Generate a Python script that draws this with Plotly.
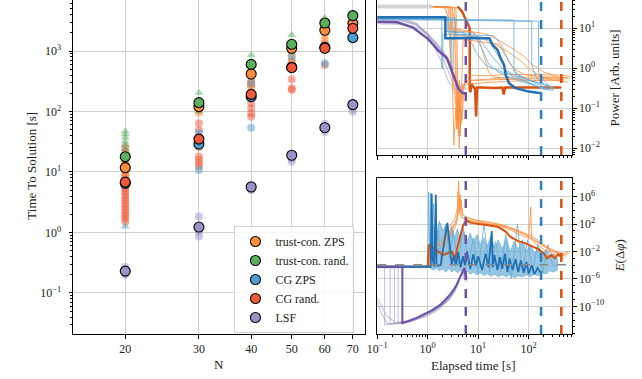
import math
import plotly.graph_objects as go

# ---------------- DATA: left panel (time to solution vs N) ----------------
N = [20, 30, 40, 50, 60, 70]
tc_zps = [11.8, 120, 417, 1110, 2200, 2870]
tc_rand = [17.9, 140, 600, 1290, 2900, 3840]
cg_zps = [6.5, 29, 176, 540, 1150, 1660]
cg_rand = [6.8, 35, 192, 530, 1110, 2370]
lsf = [0.23, 1.23, 5.65, 18.9, 54, 130]

tc_zps_f_N = [20, 20, 20, 20, 30, 30, 40, 40, 40, 50, 50, 50, 60, 60, 70]
tc_zps_f = [9, 10, 13, 15, 95, 105, 310, 280, 250, 975, 860, 700, 1520, 1800, 2600]
tc_rand_f_N = [20, 20, 20, 20, 20, 20, 20, 30, 30, 40, 50, 60, 70]
tc_rand_f = [20, 24, 28, 32, 37, 42, 47, 205, 100, 860, 1840, 3500, 4200]
cg_zps_f_N = [30, 30, 40, 40, 50, 60]
cg_zps_f = [10.8, 44, 54, 296, 800, 625]
cg_zps_tri_N = [20]
cg_zps_tri = [1.25]
cg_rand_f_N = [20] * 23 + [30] * 7 + [40] * 6 + [50] * 4 + [60] * 2
cg_rand_f = [1.5, 1.7, 1.9, 2.1, 2.4, 2.7, 3.0, 3.4, 3.8, 4.3, 4.8, 5.4, 6.1, 7, 8, 9, 10.5, 12, 14, 16, 19, 22, 26,
             64, 49, 26, 18, 16, 14, 12.5,
             311, 275, 137, 113, 93, 82,
             667, 340, 242, 227,
             1340, 587]
lsf_f_N = [20, 20, 20, 30, 30, 30, 40, 40, 50, 50, 60, 60, 70, 70]
lsf_f = [0.2, 0.21, 0.27, 1.83, 0.86, 1.03, 5.0, 6.2, 14.8, 16.5, 63, 46, 99, 110]

left_y_exps = [-1, 0, 1, 2, 3]

# ---------------- DATA: right top (power vs elapsed time) ----------------
gray_t = [0.1, 1.2]
gray_p = [35, 35]

lsf_med_t = [0.1, 0.25, 0.5, 0.8, 1.0, 1.3, 1.6, 2.0, 2.4, 2.8, 3.2, 3.6, 4.0, 4.5, 5.0, 5.7]
lsf_med_p = [14.6, 14, 10.5, 7, 5.5, 3.8, 2.8, 2.2, 1.8, 1.1, 0.7, 0.45, 0.32, 0.26, 0.24, 0.23]

lsf_runs_t = [
    [0.1, 0.3, 0.6, 1.0, 1.5, 2.0, 2.5, 3.0, 3.5, 4.0, 5.0],
    [0.1, 0.3, 0.6, 1.0, 1.5, 2.0, 2.5, 3.0, 3.5, 4.5, 5.5],
    [0.1, 0.3, 0.6, 1.0, 1.4, 1.8, 2.2, 2.6, 3.0, 3.5, 4.2],
    [0.1, 0.3, 0.6, 1.0, 1.6, 2.2, 2.8, 3.3, 3.8, 4.5, 6.0],
    [0.1, 0.3, 0.6, 1.0, 1.5, 2.0, 2.6, 3.2, 3.8, 4.6, 5.2],
]
lsf_runs_p = [
    [20, 18, 13, 7, 3.5, 1.8, 0.9, 0.5, 0.35, 0.3, 0.28],
    [16, 15, 12, 7.5, 4.2, 2.5, 1.4, 0.7, 0.45, 0.35, 0.33],
    [18, 17, 13, 6.5, 3.2, 1.6, 0.8, 0.45, 0.35, 0.3, 0.3],
    [13, 12.5, 10.5, 6.8, 3.8, 2.3, 1.2, 0.6, 0.4, 0.33, 0.3],
    [17, 16, 12, 7, 3.8, 2.3, 1.3, 0.65, 0.4, 0.3, 0.28],
]

tc_runs_t = [
    [1.2, 3.0, 3.3, 3.5, 3.7, 3.9, 4.1, 4.3, 4.6, 5.0, 5.5, 6.5, 10, 30, 100, 300, 600],
    [1.2, 2.6, 2.9, 3.1, 3.3, 3.6, 3.8, 4.0, 4.4, 4.8, 5.2, 6, 9, 20, 60, 200, 500],
    [1.3, 3.4, 3.6, 3.8, 4.0, 4.2, 4.5, 4.8, 5.2, 5.8, 7, 15, 40, 120, 400, 700],
    [1.2, 2.2, 2.5, 2.8, 3.1, 3.5, 4.0, 4.6, 5.5, 8, 20, 50, 150, 350],
    [1.2, 2.5, 2.7, 5, 8, 12, 15, 20, 30, 50, 80, 120, 200, 400, 650],
    [1.2, 3.0, 3.2, 6, 10, 14, 18, 25, 40, 70, 110, 180, 300, 600],
    [1.3, 2.8, 3.0, 5, 8, 10, 12, 14, 16, 20, 40, 100, 250, 500],
    [1.3, 3.6, 3.8, 4.0, 4.2, 4.4, 5, 7, 12, 25, 35, 50, 80, 200, 500],
]
tc_runs_p = [
    [35, 34, 20, 2, 0.05, 0.3, 0.02, 0.2, 0.04, 0.3, 0.45, 0.5, 0.5, 0.52, 0.55, 0.55, 0.58],
    [35, 33, 15, 0.5, 0.012, 0.1, 0.03, 0.25, 0.08, 0.4, 0.35, 0.4, 0.42, 0.45, 0.48, 0.5, 0.52],
    [34, 32, 8, 0.03, 0.15, 0.01, 0.1, 0.05, 0.3, 0.6, 0.65, 0.65, 0.7, 0.7, 0.68, 0.62],
    [34, 32, 20, 3, 0.6, 0.2, 0.05, 0.3, 0.45, 0.5, 0.55, 0.6, 0.6, 0.6],
    [35, 34, 9, 8.5, 8, 7.5, 7, 6, 4.5, 3, 2, 1.2, 0.8, 0.6, 0.55],
    [35, 33, 7, 6.5, 6, 5.5, 4.5, 3.5, 2.5, 1.5, 0.9, 0.6, 0.5, 0.45],
    [34, 33, 10, 9, 8, 6, 3, 1.5, 0.8, 0.6, 0.55, 0.5, 0.5, 0.5],
    [35, 33, 10, 0.05, 0.5, 0.02, 5, 5, 4.5, 4, 2, 1, 0.7, 0.6, 0.55],
]

cg_runs_t = [
    [0.1, 1.9, 1.9, 2.0, 2.0, 6, 9, 12, 16, 25, 60, 150, 260],
    [0.1, 2.5, 2.5, 8, 11, 15, 20, 30, 50, 90, 200, 300],
    [0.1, 51, 51, 60, 100, 200, 280],
    [0.1, 115, 115, 140, 200, 300],
    [0.1, 157, 157, 200, 260, 320],
    [0.1, 2.8, 2.8, 3.2, 3.2, 12, 18, 25, 35, 80, 200],
    [0.1, 3.5, 3.5, 20, 28, 40, 60, 120, 250],
    [0.1, 2.2, 2.2, 5, 7, 9, 14, 30, 70, 180, 320],
]
cg_runs_p = [
    [18, 18, 1.0, 1.0, 7, 7, 6, 3, 1.3, 0.8, 0.5, 0.35, 0.3],
    [18.5, 18.5, 8, 7.5, 5, 3, 1.8, 1.0, 0.6, 0.45, 0.3, 0.28],
    [17, 16, 0.8, 0.7, 0.5, 0.4, 0.35],
    [17.5, 15, 1.2, 0.6, 0.4, 0.3],
    [16.5, 15, 0.8, 0.5, 0.35, 0.28],
    [18, 18, 0.9, 0.9, 6.5, 6, 4, 2, 0.9, 0.5, 0.3],
    [18, 18, 7, 6.5, 4, 1.5, 0.7, 0.45, 0.3],
    [18, 18, 8.5, 8, 5, 2.5, 1.2, 0.8, 0.6, 0.4, 0.32],
]

cg_med_t = [0.1, 2.24, 2.24, 16.7, 19.3, 24, 28, 32.6, 35, 40.8, 55, 100, 176]
cg_med_p = [18.8, 18.8, 5.6, 5.6, 3.8, 2.9, 1.78, 1.2, 0.68, 0.42, 0.32, 0.26, 0.237]

tc_med_t = [3.8, 4.2, 4.8, 5.5, 6.2, 6.8, 6.8, 7.0, 7.3, 8.0, 8.7, 9.1, 9.5, 12, 20, 30, 32, 34, 60, 100, 200, 300, 443]
tc_med_p = [34, 32, 26, 18, 12, 10, 0.3, 0.25, 0.4, 0.33, 0.3, 0.062, 0.33, 0.33, 0.32, 0.33, 0.22, 0.33, 0.33, 0.32, 0.32, 0.32, 0.33]

power_exps = [-2, -1, 0, 1]
time_exps = [-1, 0, 1, 2]

# ---------------- DATA: right bottom (error vs elapsed time) ----------------
err_threshold = 1.15e-4
finish_times = [5.68, 176, 443]   # LSF, CG ZPS, trust-con. ZPS
err_exps = [-10, -6, -2, 2, 6]

lsf_med_et = [0.1, 0.315, 0.315, 0.4, 0.6, 0.84, 1.2, 1.77, 2.3, 2.77, 3.3, 3.73, 4.2, 4.66, 5.0, 5.4, 5.68]
lsf_med_e = [6e-5, 6e-5, 3.5e-13, 6e-13, 2e-12, 6e-12, 2.5e-11, 1.6e-10, 1.2e-9, 5e-9, 3e-8, 1.3e-7, 1e-6, 4e-6, 1e-5, 4e-5, 2e-6]

lsf_runs_et = [
    [0.1, 0.14, 0.14, 0.2, 0.4, 0.8, 1.5, 2.5, 3.5, 4.2, 4.8, 5.3],
    [0.1, 0.18, 0.18, 0.25, 0.5, 1.0, 1.8, 2.8, 3.6, 4.4, 5.0, 5.5],
    [0.1, 0.22, 0.22, 0.3, 0.6, 1.2, 2.0, 3.0, 3.8, 4.5, 5.2, 6.0],
    [0.1, 0.26, 0.26, 0.35, 0.7, 1.3, 2.2, 3.2, 4.0, 4.6, 5.4, 6.2],
    [0.1, 0.12, 0.16, 0.2, 0.4, 0.9, 1.6, 2.6, 3.4, 4.3, 5.0],
    [0.1, 0.15, 0.25, 0.5, 1.0, 2.0, 3.0, 4.0, 4.8],
]
lsf_runs_e = [
    [6e-5, 6e-5, 2e-13, 3e-13, 8e-13, 4e-12, 4e-11, 6e-10, 2e-8, 4e-7, 8e-6, 1e-6],
    [6e-5, 6e-5, 2.5e-13, 3.5e-13, 1e-12, 8e-12, 1e-10, 3e-9, 5e-8, 2e-6, 3e-5, 5e-7],
    [6e-5, 6e-5, 3e-13, 4e-13, 1.5e-12, 1.5e-11, 2e-10, 5e-9, 1e-7, 3e-6, 2e-5, 3e-7],
    [6e-5, 6e-5, 3e-13, 4e-13, 2e-12, 2e-11, 3e-10, 8e-9, 3e-7, 6e-6, 5e-5, 1e-6],
    [5e-10, 1e-11, 3e-13, 2.5e-13, 5e-13, 3e-12, 3e-11, 8e-10, 1.5e-8, 1e-6, 3e-5],
    [2e-9, 5e-12, 3e-13, 7e-13, 6e-12, 2e-10, 4e-9, 3e-7, 1e-5],
]

cg_flat_et = [0.1, 1.0]
cg_flat_e = [6e-5, 6e-5]

cg_band_t = [1.0, 1.3, 1.5, 1.7, 2.0, 2.3, 2.6, 3.0, 3.4, 3.9, 4.5, 5.2, 6, 7, 8, 9.5, 11, 13, 15, 18,
             21, 25, 30, 36, 43, 52, 62, 75, 90, 108, 130, 155, 185, 220, 260, 310, 370]
cg_band_hi = [1e-3, 1e2, 5, 3e2, 10, 100, 3, 50, 1, 20, 0.5, 10, 0.3, 5, 0.2, 3, 0.1, 1, 0.05, 2,
              0.03, 0.5, 0.02, 1, 0.01, 0.3, 0.02, 0.5, 0.01, 0.1, 5e-3, 0.05, 3e-3, 0.02, 2e-3, 5e-3, 1e-3]
cg_band_lo = [6e-5, 2e-5, 4e-5, 1.5e-5, 3e-5, 1e-5, 3e-5, 1e-5, 2e-5, 8e-6, 2e-5, 6e-6, 1.5e-5, 5e-6, 1e-5, 4e-6, 8e-6, 3e-6, 6e-6, 2.5e-6,
              5e-6, 2e-6, 4e-6, 2e-6, 4e-6, 1.5e-6, 3e-6, 2e-6, 4e-6, 2e-6, 5e-6, 3e-6, 8e-6, 5e-6, 1.5e-5, 1e-5, 2e-5]

cg_spk_t = [1.0, 1.05, 1.1, 1.15, 1.2, 1.3, 1.4, 1.6, 1.9, 2.3, 2.7, 3.2, 4, 5, 6.5, 8, 10, 13, 17, 22,
            28, 35, 45, 60, 75, 95, 120, 150, 190, 240, 300, 370]
cg_spk_e = [6e-5, 5e6, 1e-3, 3e6, 1e-2, 1e5, 1e-3, 1e1, 1e-4, 1e2, 1e-3, 1e1, 1e-4, 5e1, 1e-4, 1, 1e-5, 1e2, 1e-5, 0.3,
            1e-5, 3, 1e-6, 1e2, 1e-5, 0.5, 1e-5, 0.1, 1e-5, 1e-1, 1e-4, 1e-4]

cg_med_et = [0.1, 1.15, 1.2, 1.25, 1.35, 1.45, 1.5, 1.6, 1.8, 2.45, 3.0, 3.3, 3.6, 4.0, 4.5, 5, 5.5, 6, 7, 8,
             9, 10, 12, 14, 16, 18.6, 19.5, 21, 24, 27, 30, 34, 38, 42, 48, 55, 62, 70, 80, 90,
             100, 115, 130, 150, 176]
cg_med_e = [6e-5, 6e-5, 3e6, 1e-3, 6e-5, 2e6, 1e-4, 8e-5, 1e-4, 1.5e2, 1e-4, 3e-3, 1e-4, 8e-3, 5e-5, 2e-3, 1e-4, 1e-2, 3e-5, 4e-3,
            8e-5, 2e-3, 2e-5, 5e-3, 5e-5, 1e1, 5e-5, 3e-3, 2e-5, 1.5e-3, 3e-5, 5e-3, 1e-5, 1e-3, 2e-5, 8e-4, 1e-5, 5e-4, 8e-6, 3e-4,
            6e-6, 1e-4, 5e-6, 4e-5, 7e-6]

tc_runs_et = [
    [1.05, 1.05, 1.5, 2.0, 2.5, 3.0, 3.5, 3.9, 4.1, 4.3, 4.6, 5, 6, 7, 9, 12, 16, 22, 30, 40,
     55, 70, 90, 120, 150, 180, 230, 300, 400, 520, 640],
    [1.1, 1.1, 1.6, 2.2, 2.8, 3.3, 3.8, 4.0, 4.2, 4.4, 4.8, 5.5, 6.5, 8, 10, 14, 20, 28, 38, 50,
     65, 85, 110, 140, 170, 210, 260, 330, 420, 550],
    [1.2, 1.2, 1.8, 2.4, 3.0, 3.6, 4.0, 4.3, 4.6, 5.0, 5.8, 7, 9, 12, 17, 25, 35, 50, 70, 100,
     130, 160, 200, 260, 350, 480, 620],
    [1.3, 1.3, 2.0, 2.6, 3.2, 3.7, 4.1, 4.4, 4.8, 5.3, 6, 8, 11, 15, 21, 30, 42, 60, 80, 100,
     110, 115, 130, 160, 200, 250, 320, 400, 500],
]
tc_runs_e = [
    [6e-5, 1e-2, 5e-2, 1, 20, 150, 800, 3e4, 2e8, 1e4, 3e5, 2e3, 900, 600, 400, 300, 200, 120, 60, 30,
     12, 5, 2, 0.5, 0.2, 0.08, 0.03, 0.01, 5e-3, 3e-3, 6e-3],
    [6e-5, 3e-3, 2e-2, 0.3, 5, 60, 400, 5e6, 1e4, 2e6, 3e3, 1200, 700, 500, 300, 200, 150, 90, 50, 25,
     10, 4, 1, 0.4, 0.15, 0.05, 0.02, 8e-3, 4e-3, 2e-3],
    [6e-5, 5e-2, 0.1, 2, 30, 300, 2e3, 5e5, 1e3, 800, 500, 300, 200, 150, 100, 70, 40, 15, 6, 3,
     1, 0.3, 0.1, 0.03, 0.01, 5e-3, 8e-3],
    [6e-5, 1e-3, 0.02, 0.5, 10, 100, 1e4, 3e3, 1e3, 600, 400, 250, 150, 100, 70, 40, 15, 5, 2, 0.8,
     3e4, 0.5, 0.2, 0.06, 0.02, 0.01, 3e-3, 2e-3, 1e-3],
]

tc_med_et = [0.1, 1.0, 1.05, 2.0, 3.0, 3.5, 4.0, 4.5, 5.0, 5.85, 6.5, 7.5, 8.4, 10, 13.5, 18, 24, 29, 35, 43,
             50, 63, 80, 100, 130, 160, 200, 230, 280, 330, 380, 443]
tc_med_e = [6e-5, 6e-5, 1e-1, 3e-3, 1e-2, 1e-3, 1e-1, 5, 60, 400, 200, 150, 120, 100, 80, 60, 40, 20, 8, 1.5,
            0.8, 0.3, 0.2, 0.1, 0.05, 0.02, 5e-3, 1e-3, 3e-3, 1e-3, 4e-3, 2e-3]

legend_names = ["trust-con. ZPS", "trust-con. rand.", "CG ZPS", "CG rand.", "LSF"]

# ---------------- STYLE ----------------
W, H = 642, 379
FONT = "Liberation Serif"
C_TCZ = "#fd8d3c"
C_TCR = "#5aae5c"
C_CGZ = "#4c9fd2"
C_CGR = "#f05a3c"
C_LSF = "#9a93c8"
D_PURPLE = "#6f52a6"
D_BLUE = "#2171b5"
D_ORANGE = "#d9500f"
L_PURPLE = "rgba(158,154,200,0.55)"
L_BLUE = "rgba(107,174,214,0.85)"
L_ORANGE = "rgba(253,141,60,0.8)"
GRID = "#cfcfcf"


def pow_text(e):
    s = str(e) if e >= 0 else "\u2212" + str(-e)
    return "10<sup>" + s + "</sup>"


fig = go.Figure()

# ---- left panel: faint points ----
def faint(xs, ys, color, symbol="circle"):
    fig.add_trace(go.Scatter(x=xs, y=ys, mode="markers", showlegend=False,
                             marker=dict(color=color, size=8, symbol=symbol, opacity=0.5, line=dict(width=0)),
                             xaxis="x", yaxis="y", hoverinfo="skip"))

faint(cg_rand_f_N, cg_rand_f, C_CGR)
faint(tc_zps_f_N, tc_zps_f, C_TCZ)
faint(tc_rand_f_N, tc_rand_f, C_TCR, "triangle-up")
faint(cg_zps_f_N, cg_zps_f, C_CGZ)
faint(cg_zps_tri_N, cg_zps_tri, C_CGZ, "triangle-up")
faint(lsf_f_N, lsf_f, C_LSF)

for name, vals, col in zip(legend_names, [tc_zps, tc_rand, cg_zps, cg_rand, lsf],
                           [C_TCZ, C_TCR, C_CGZ, C_CGR, C_LSF]):
    fig.add_trace(go.Scatter(x=N, y=vals, mode="markers", name=name,
                             marker=dict(color=col, size=10, line=dict(color="black", width=1.1)),
                             xaxis="x", yaxis="y"))

# ---- right panels ----
def line(xs, ys, color, width, ax, ay):
    fig.add_trace(go.Scatter(x=xs, y=ys, mode="lines", showlegend=False, hoverinfo="skip",
                             line=dict(color=color, width=width), xaxis=ax, yaxis=ay))

# top
line(gray_t, gray_p, "#d4d4d4", 4, "x2", "y2")
for t, p in zip(lsf_runs_t, lsf_runs_p):
    line(t, p, L_PURPLE, 1.2, "x2", "y2")
line(tc_med_t, tc_med_p, D_ORANGE, 2.5, "x2", "y2")
for t, p in zip(tc_runs_t, tc_runs_p):
    line(t, p, L_ORANGE, 1.0, "x2", "y2")
for t, p in zip(cg_runs_t, cg_runs_p):
    line(t, p, L_BLUE, 1.0, "x2", "y2")
line(lsf_med_t, lsf_med_p, D_PURPLE, 2.5, "x2", "y2")
line(cg_med_t, cg_med_p, D_BLUE, 2.5, "x2", "y2")

# bottom
fig.add_trace(go.Scatter(x=cg_band_t + cg_band_t[::-1], y=cg_band_hi + cg_band_lo[::-1],
                         fill="toself", mode="lines", line=dict(color="rgba(107,174,214,0.9)", width=0.8),
                         fillcolor="rgba(107,174,214,0.7)",
                         showlegend=False, hoverinfo="skip", xaxis="x3", yaxis="y3"))
line(cg_flat_et, cg_flat_e, "rgba(150,190,215,0.9)", 3, "x3", "y3")
line(cg_spk_t, cg_spk_e, L_BLUE, 1.0, "x3", "y3")
for t, e in zip(lsf_runs_et, lsf_runs_e):
    line(t, e, L_PURPLE, 1.2, "x3", "y3")
for t, e in zip(tc_runs_et, tc_runs_e):
    line(t, e, L_ORANGE, 1.0, "x3", "y3")
line(tc_med_et, tc_med_e, D_ORANGE, 2.0, "x3", "y3")
line(cg_med_et, cg_med_e, D_BLUE, 1.8, "x3", "y3")
line(lsf_med_et, lsf_med_e, D_PURPLE, 2.0, "x3", "y3")

# threshold + finish lines
fig.add_shape(type="line", xref="x3 domain", yref="y3", x0=0, x1=1, y0=err_threshold, y1=err_threshold,
              line=dict(color="#8a8a8a", width=1.5, dash="dash"))
for tt, col in zip(finish_times, [D_PURPLE, "#2c7fc0", D_ORANGE]):
    for ax, ay in [("x2", "y2"), ("x3", "y3")]:
        fig.add_shape(type="line", xref=ax, yref=ay + " domain", x0=tt, x1=tt, y0=0, y1=1,
                      line=dict(color=col, width=2.5, dash="dash"))

# ---------------- LAYOUT ----------------
def px_x(v):
    return v / W

def px_y(v):
    return 1 - v / H

tickfont = dict(family=FONT, size=12, color="#222")
minor = dict(ticks="outside", ticklen=2, tickcolor="black", showgrid=False)
common = dict(type="log", showgrid=True, gridcolor=GRID, gridwidth=1, showline=True, linecolor="black",
              linewidth=1, ticks="outside", ticklen=3.5, tickwidth=0.8, tickcolor="black",
              tickfont=tickfont, zeroline=False)


def log_ticks(exps):
    return dict(tickmode="array", tickvals=[10.0 ** e for e in exps], ticktext=[pow_text(e) for e in exps])


fig.update_layout(
    width=W, height=H, margin=dict(l=0, r=0, t=0, b=0),
    paper_bgcolor="white", plot_bgcolor="white",
    font=dict(family=FONT, size=12, color="#222"),
    xaxis=dict(**common, domain=[px_x(64), px_x(361)], range=[math.log10(15), math.log10(75)],
               tickmode="array", tickvals=N, ticktext=[str(n) for n in N], anchor="y"),
    yaxis=dict(**common, **log_ticks(left_y_exps), domain=[px_y(334), 1], range=[-1.678, 3.843],
               mirror=True, anchor="x", ticklabelstandoff=5, minor=dict(**minor, dtick="D1")),
    xaxis2=dict(**common, **log_ticks(time_exps), domain=[px_x(373), px_x(571)], range=[-1, 2.86],
                anchor="y2", showticklabels=False, matches="x3", minor=dict(**minor, dtick="D1")),
    yaxis2=dict(**common, **log_ticks(power_exps), domain=[px_y(155), 1], range=[-2.17, 1.705],
                side="right", mirror=True, anchor="x2", minor=dict(**minor, dtick="D1")),
    xaxis3=dict(**common, **log_ticks(time_exps), domain=[px_x(373), px_x(571)], range=[-1, 2.86],
                anchor="y3", mirror=True, minor=dict(**minor, dtick="D1")),
    yaxis3=dict(**common, **log_ticks(err_exps), domain=[px_y(334), px_y(178)], range=[-14.04, 8.73],
                side="right", mirror=True, anchor="x3", minor=dict(**minor, dtick=1)),
    legend=dict(x=px_x(228), y=px_y(226), xanchor="left", yanchor="top",
                bgcolor="rgba(255,255,255,0.85)", bordercolor="#d0d0d0", borderwidth=1,
                font=dict(family=FONT, size=12, color="#222"), tracegroupgap=0, itemwidth=30),
    showlegend=True,
)

titles = [
    ("N", 212, 364, 0),
    ("Time To Solution [s]", 22, 166, -90),
    ("Elapsed time [s]", 470, 365, 0),
    ("Power [Arb. units]", 614, 78, -90),
    ("<i>E</i>(Δ<i>φ</i>)", 619, 256, -90),
]
for txt, x, y, ang in titles:
    fig.add_annotation(text=txt, x=px_x(x), y=px_y(y), xref="paper", yref="paper", showarrow=False,
                       textangle=ang, xanchor="center", yanchor="middle",
                       font=dict(family=FONT, size=13, color="#222"))

fig.write_html("out.html")
